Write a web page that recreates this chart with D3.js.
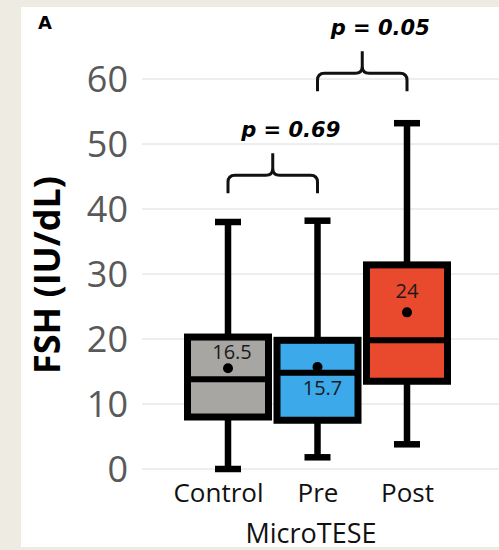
<!DOCTYPE html>
<html>
<head>
<meta charset="utf-8">
<script src="https://cdn.jsdelivr.net/npm/d3@7"></script>
<style>
  body { margin: 0; background: #eeebe3; }
  svg { display: block; }
</style>
</head>
<body>
<div class="chart"></div>
<script>
var groups = ["Control", "Pre", "Post"];
var whiskerLow = [0, 1.8, 3.8];
var q1 = [8, 7.5, 13.5];
var median = [13.8, 14.8, 19.8];
var q3 = [20.3, 19.8, 31.4];
var whiskerHigh = [38, 38.2, 53.2];
var means = [15.5, 15.7, 24.1];
var meanLabels = ["16.5", "15.7", "24"];
var boxColors = ["#a8a6a3", "#3ba9ea", "#e9492d"];
var yTicks = [0, 10, 20, 30, 40, 50, 60];
var comparisons = [
  {from: "Control", to: "Pre", level: 45.2, label: "p = 0.69"},
  {from: "Pre", to: "Post", level: 60.9, label: "p = 0.05"}
];

var svgWidth = 499, svgHeight = 550;

var svg = d3.select(".chart")
    .append("svg")
    .attr("width", svgWidth)
    .attr("height", svgHeight);

// white panel
svg.append("rect")
    .attr("x", 21).attr("y", 7)
    .attr("width", svgWidth - 21).attr("height", 540)
    .attr("fill", "#ffffff");

var x = d3.scalePoint().domain(groups).range([228, 407]);
var y = d3.scaleLinear().domain([0, 60]).range([469, 79]);

var boxW = 81;

// gridlines
svg.append("g")
    .selectAll("line")
    .data(yTicks)
    .enter()
    .append("line")
    .attr("x1", 142).attr("x2", svgWidth)
    .attr("y1", function(d) { return y(d); })
    .attr("y2", function(d) { return y(d); })
    .attr("stroke", "#dcdcdc")
    .attr("stroke-width", 1);

// y axis labels
var leftAxis = d3.axisLeft(y).tickValues(yTicks).tickSize(0).tickPadding(0);
var yAxis = svg.append("g")
    .attr("transform", "translate(128,0)")
    .call(leftAxis);
yAxis.select(".domain").remove();
yAxis.selectAll("text")
    .attr("fill", "#595959")
    .attr("dy", "0.36em")
    .style("font-family", "'Open Sans', sans-serif")
    .style("font-size", "36px");

// x labels
var bottomAxis = d3.axisBottom(x).tickSize(0).tickPadding(0);
var xAxis = svg.append("g")
    .attr("transform", "translate(0,482)")
    .call(bottomAxis);
xAxis.select(".domain").remove();
xAxis.selectAll("text")
    .attr("fill", "#111")
    .attr("dy", "0.78em")
    .attr("dx", function(d) { return d === "Control" ? -10 : 0; })
    .style("font-family", "'Open Sans', sans-serif")
    .style("font-size", "26px");

svg.append("text")
    .attr("x", 311).attr("y", 543)
    .attr("text-anchor", "middle")
    .attr("fill", "#111")
    .style("font-family", "'Open Sans', sans-serif")
    .style("font-size", "27px")
    .text("MicroTESE");

svg.append("text")
    .attr("transform", "translate(60," + 275 + ") rotate(-90)")
    .attr("text-anchor", "middle")
    .attr("fill", "#000")
    .style("font-family", "'Open Sans', sans-serif")
    .style("font-weight", "bold")
    .style("font-size", "36px")
    .text("FSH (IU/dL)");

svg.append("text")
    .attr("x", 38).attr("y", 29)
    .attr("fill", "#000")
    .style("font-family", "'DejaVu Sans', sans-serif")
    .style("font-weight", "bold")
    .style("font-size", "18px")
    .text("A");

// boxes
var boxes = svg.selectAll(".box")
    .data(groups)
    .enter()
    .append("g")
    .attr("class", "box");

boxes.append("line")
    .attr("x1", function(d) { return x(d); })
    .attr("x2", function(d) { return x(d); })
    .attr("y1", function(d, i) { return y(whiskerLow[i]); })
    .attr("y2", function(d, i) { return y(whiskerHigh[i]); })
    .attr("stroke", "#000").attr("stroke-width", 6.5);

boxes.append("line")
    .attr("x1", function(d) { return x(d) - 13; })
    .attr("x2", function(d) { return x(d) + 13; })
    .attr("y1", function(d, i) { return y(whiskerHigh[i]); })
    .attr("y2", function(d, i) { return y(whiskerHigh[i]); })
    .attr("stroke", "#000").attr("stroke-width", 6.5);

boxes.append("line")
    .attr("x1", function(d) { return x(d) - 13; })
    .attr("x2", function(d) { return x(d) + 13; })
    .attr("y1", function(d, i) { return y(whiskerLow[i]); })
    .attr("y2", function(d, i) { return y(whiskerLow[i]); })
    .attr("stroke", "#000").attr("stroke-width", 6.5);

boxes.append("rect")
    .attr("x", function(d) { return x(d) - boxW / 2; })
    .attr("y", function(d, i) { return y(q3[i]); })
    .attr("width", boxW)
    .attr("height", function(d, i) { return y(q1[i]) - y(q3[i]); })
    .attr("fill", function(d, i) { return boxColors[i]; })
    .attr("stroke", "#000")
    .attr("stroke-width", 7);

boxes.append("line")
    .attr("x1", function(d) { return x(d) - boxW / 2; })
    .attr("x2", function(d) { return x(d) + boxW / 2; })
    .attr("y1", function(d, i) { return y(median[i]); })
    .attr("y2", function(d, i) { return y(median[i]); })
    .attr("stroke", "#000").attr("stroke-width", 6);

boxes.append("circle")
    .attr("cx", function(d) { return x(d); })
    .attr("cy", function(d, i) { return y(means[i]); })
    .attr("r", 5)
    .attr("fill", "#000");

var labelDy = [-9, 28, -14];
var labelDx = [4, 5, 0];
boxes.append("text")
    .attr("x", function(d, i) { return x(d) + labelDx[i]; })
    .attr("y", function(d, i) { return y(means[i]) + labelDy[i]; })
    .attr("text-anchor", "middle")
    .attr("fill", "#1a1a1a")
    .style("font-family", "'Open Sans', sans-serif")
    .style("font-size", "20px")
    .text(function(d, i) { return meanLabels[i]; });

// comparison braces
function bracePath(x0, x1, yh) {
    var r = 7, xm = (x0 + x1) / 2;
    return "M" + x0 + "," + (yh + 18) +
        " L" + x0 + "," + (yh + r) +
        " Q" + x0 + "," + yh + " " + (x0 + r) + "," + yh +
        " L" + (xm - r) + "," + yh +
        " Q" + xm + "," + yh + " " + xm + "," + (yh - r) +
        " L" + xm + "," + (yh - 22) +
        " M" + xm + "," + (yh - r) +
        " Q" + xm + "," + yh + " " + (xm + r) + "," + yh +
        " L" + (x1 - r) + "," + yh +
        " Q" + x1 + "," + yh + " " + x1 + "," + (yh + r) +
        " L" + x1 + "," + (yh + 18);
}

var comps = svg.selectAll(".comp")
    .data(comparisons)
    .enter()
    .append("g")
    .attr("class", "comp");

comps.append("path")
    .attr("d", function(d) { return bracePath(x(d.from), x(d.to), y(d.level)); })
    .attr("fill", "none")
    .attr("stroke", "#111")
    .attr("stroke-width", 3);

comps.append("text")
    .attr("x", function(d) { return (x(d.from) + x(d.to)) / 2 + 18; })
    .attr("y", function(d) { return y(d.level) - 38; })
    .attr("text-anchor", "middle")
    .attr("fill", "#000")
    .style("font-family", "'DejaVu Sans', sans-serif")
    .style("font-weight", "bold")
    .style("font-style", "italic")
    .style("font-size", "21px")
    .text(function(d) { return d.label; });
</script>
</body>
</html>
